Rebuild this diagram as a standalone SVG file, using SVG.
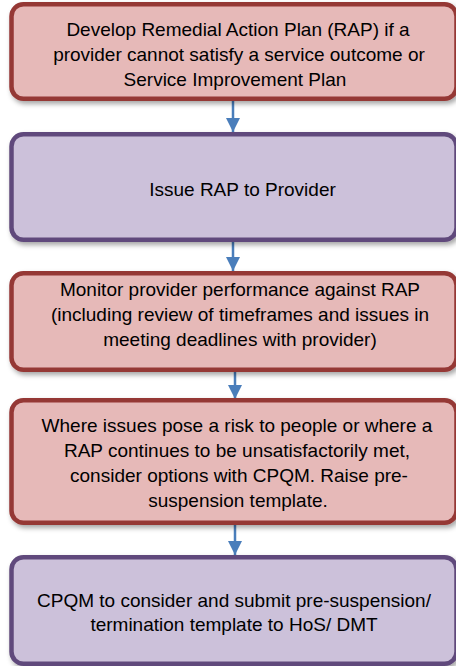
<svg xmlns="http://www.w3.org/2000/svg" width="456" height="666" viewBox="0 0 456 666">
  <defs>
    <filter id="shadow" x="-10%" y="-10%" width="120%" height="130%">
      <feDropShadow dx="2" dy="3" stdDeviation="2.5" flood-color="#000" flood-opacity="0.35"/>
    </filter>
    <marker id="arrow" markerUnits="userSpaceOnUse" markerWidth="14" markerHeight="14" refX="14" refY="7" orient="auto">
      <path d="M0,0 L14,7 L0,14 Z" fill="#4A7EBB"/>
    </marker>
    <style>
      .red { fill: #E6B9B8; stroke: #953735; stroke-width: 4.5; filter: url(#shadow); }
      .purple { fill: #CCC1DA; stroke: #604A7B; stroke-width: 4.5; filter: url(#shadow); }
      .lbl { font-family: "Liberation Sans", Arial, sans-serif; font-size: 19px; fill: #000; text-anchor: middle; }
      .conn { stroke: #4A7EBB; stroke-width: 2.5; fill: none; marker-end: url(#arrow); }
    </style>
  </defs>

  <g id="connectors">
    <line class="conn" x1="233" y1="101" x2="233" y2="132"/>
    <line class="conn" x1="233" y1="242" x2="233" y2="271"/>
    <line class="conn" x1="235" y1="372" x2="235" y2="399"/>
    <line class="conn" x1="235" y1="525" x2="235" y2="555"/>
  </g>

  <g id="node1">
    <rect class="red" x="11.5" y="4.25" width="445" height="94.5" rx="12"/>
    <text class="lbl" x="238" y="36">Develop Remedial Action Plan (RAP) if a</text>
    <text class="lbl" x="239" y="61">provider cannot satisfy a service outcome or</text>
    <text class="lbl" x="235" y="86">Service Improvement Plan</text>
  </g>

  <g id="node2">
    <rect class="purple" x="11.5" y="134.25" width="445" height="105.5" rx="12"/>
    <text class="lbl" x="242.5" y="196">Issue RAP to Provider</text>
  </g>

  <g id="node3">
    <rect class="red" x="11.5" y="273.25" width="445" height="96.5" rx="12"/>
    <text class="lbl" x="240" y="296">Monitor provider performance against RAP</text>
    <text class="lbl" x="240" y="321">(including review of timeframes and issues in</text>
    <text class="lbl" x="240" y="346">meeting deadlines with provider)</text>
  </g>

  <g id="node4">
    <rect class="red" x="11.5" y="400.25" width="445" height="122.5" rx="12"/>
    <text class="lbl" x="237" y="432">Where issues pose a risk to people or where a</text>
    <text class="lbl" x="237" y="457">RAP continues to be unsatisfactorily met,</text>
    <text class="lbl" x="239" y="482">consider options with CPQM. Raise pre-</text>
    <text class="lbl" x="238" y="507">suspension template.</text>
  </g>

  <g id="node5">
    <rect class="purple" x="11.5" y="557.25" width="445" height="106.5" rx="12"/>
    <text class="lbl" x="234" y="607">CPQM to consider and submit pre-suspension/</text>
    <text class="lbl" x="234" y="631">termination template to HoS/ DMT</text>
  </g>
</svg>
